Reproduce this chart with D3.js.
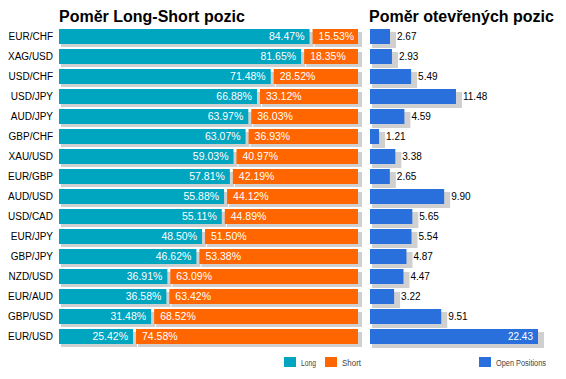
<!DOCTYPE html>
<html><head><meta charset="utf-8">
<script src="https://cdn.jsdelivr.net/npm/d3@7"></script>
<style>body{margin:0;background:#fff}svg{display:block}</style>
</head><body>
<svg id="c" width="566" height="379"></svg>
<script>
const categories = ["EUR/CHF","XAG/USD","USD/CHF","USD/JPY","AUD/JPY","GBP/CHF","XAU/USD","EUR/GBP","AUD/USD","USD/CAD","EUR/JPY","GBP/JPY","NZD/USD","EUR/AUD","GBP/USD","EUR/USD"];
const longPct = [84.47,81.65,71.48,66.88,63.97,63.07,59.03,57.81,55.88,55.11,48.50,46.62,36.91,36.58,31.48,25.42];
const shortPct = [15.53,18.35,28.52,33.12,36.03,36.93,40.97,42.19,44.12,44.89,51.50,53.38,63.09,63.42,68.52,74.58];
const openPositions = [2.67,2.93,5.49,11.48,4.59,1.21,3.38,2.65,9.90,5.65,5.54,4.87,4.47,3.22,9.51,22.43];
const titleLeft = "Poměr Long-Short pozic";
const titleRight = "Poměr otevřených pozic";
const legendLeft = ["Long","Short"];
const legendRight = ["Open Positions"];

const COL_LONG = "#00a5c0", COL_SHORT = "#ff6600", COL_OPEN = "#2a70dc", COL_SHADOW = "#d0d0d0";
const FONT = "Liberation Sans, Arial, sans-serif";

const svg = d3.select("#c");
const y = d3.scaleBand().domain(categories).range([26.5, 346.5]).paddingInner(0.25).paddingOuter(0.125);
const xL = d3.scaleLinear().domain([0, 100]).range([59, 358]);
const xR = d3.scaleLinear().domain([0, 22.43]).range([370, 538]);

const data = categories.map((c, i) => ({c, l: longPct[i], s: shortPct[i], o: openPositions[i]}));
const h = y.bandwidth();

// Titles
svg.append("text").attr("x", 59).attr("y", 22).text(titleLeft)
  .attr("font-family", FONT).attr("font-weight", "bold").attr("font-size", 16).attr("fill", "#000");
svg.append("text").attr("x", 369).attr("y", 22).text(titleRight)
  .attr("font-family", FONT).attr("font-weight", "bold").attr("font-size", 16).attr("fill", "#000");

// Category axis labels
const yAxis = d3.axisLeft(y).tickSize(0).tickPadding(6);
const ga = svg.append("g").attr("transform", "translate(59,0)").call(yAxis);
ga.select(".domain").remove();
ga.selectAll("text").attr("font-family", FONT).attr("font-size", 10).attr("fill", "#000");

// Left panel
const gl = svg.append("g");
const rowL = gl.selectAll("g.row").data(data).join("g").attr("class", "row");
// shadows
rowL.append("rect").attr("x", d => xL(0) + 2).attr("y", d => y(d.c) + 3)
  .attr("width", d => xL(d.l) - 2 - xL(0) + 2).attr("height", h).attr("fill", COL_SHADOW);
rowL.append("rect").attr("x", d => xL(d.l) + 1 + 2).attr("y", d => y(d.c) + 3)
  .attr("width", d => xL(100) - xL(d.l) - 1 + 2).attr("height", h).attr("fill", COL_SHADOW);
// bars
rowL.append("rect").attr("x", xL(0)).attr("y", d => y(d.c))
  .attr("width", d => xL(d.l) - 2 - xL(0)).attr("height", h).attr("fill", COL_LONG);
rowL.append("rect").attr("x", d => xL(d.l) + 1).attr("y", d => y(d.c))
  .attr("width", d => xL(100) - xL(d.l) - 1).attr("height", h).attr("fill", COL_SHORT);
// labels
rowL.append("text").attr("x", d => xL(d.l) - 7).attr("y", d => y(d.c) + h / 2).attr("dy", "0.36em")
  .attr("text-anchor", "end").text(d => d.l.toFixed(2) + "%")
  .attr("font-family", FONT).attr("font-size", 10.5).attr("fill", "#fff");
rowL.append("text").attr("x", d => xL(d.l) + 7).attr("y", d => y(d.c) + h / 2).attr("dy", "0.36em")
  .text(d => d.s.toFixed(2) + "%")
  .attr("font-family", FONT).attr("font-size", 10.5).attr("fill", "#fff");

// Right panel
const gr = svg.append("g");
const rowR = gr.selectAll("g.row").data(data).join("g").attr("class", "row");
rowR.append("rect").attr("x", xR(0) + 2).attr("y", d => y(d.c) + 3)
  .attr("width", d => xR(d.o) - xR(0) + 4).attr("height", h + 1).attr("fill", COL_SHADOW);
rowR.append("rect").attr("x", xR(0)).attr("y", d => y(d.c))
  .attr("width", d => xR(d.o) - xR(0)).attr("height", h).attr("fill", COL_OPEN);
const maxO = d3.max(openPositions);
rowR.append("text")
  .attr("x", d => d.o === maxO ? xR(d.o) - 5 : xR(d.o) + 7)
  .attr("y", d => y(d.c) + h / 2).attr("dy", "0.36em")
  .attr("text-anchor", d => d.o === maxO ? "end" : "start")
  .text(d => d.o.toFixed(2))
  .attr("font-family", FONT).attr("font-size", 10).attr("fill", d => d.o === maxO ? "#fff" : "#000");

// Legends
function legend(items, colors, xs, widths) {
  items.forEach((t, i) => {
    svg.append("rect").attr("x", xs[i]).attr("y", 357).attr("width", 12).attr("height", 10).attr("fill", colors[i]);
    svg.append("text").attr("x", xs[i] + 17).attr("y", 366).text(t)
      .attr("font-family", FONT).attr("font-size", 8.5).attr("fill", "#444")
      .attr("textLength", widths[i]).attr("lengthAdjust", "spacingAndGlyphs");
  });
}
legend(legendLeft, [COL_LONG, COL_SHORT], [284, 325], [15, 19]);
legend(legendRight, [COL_OPEN], [479], [50]);
</script>
</body></html>
